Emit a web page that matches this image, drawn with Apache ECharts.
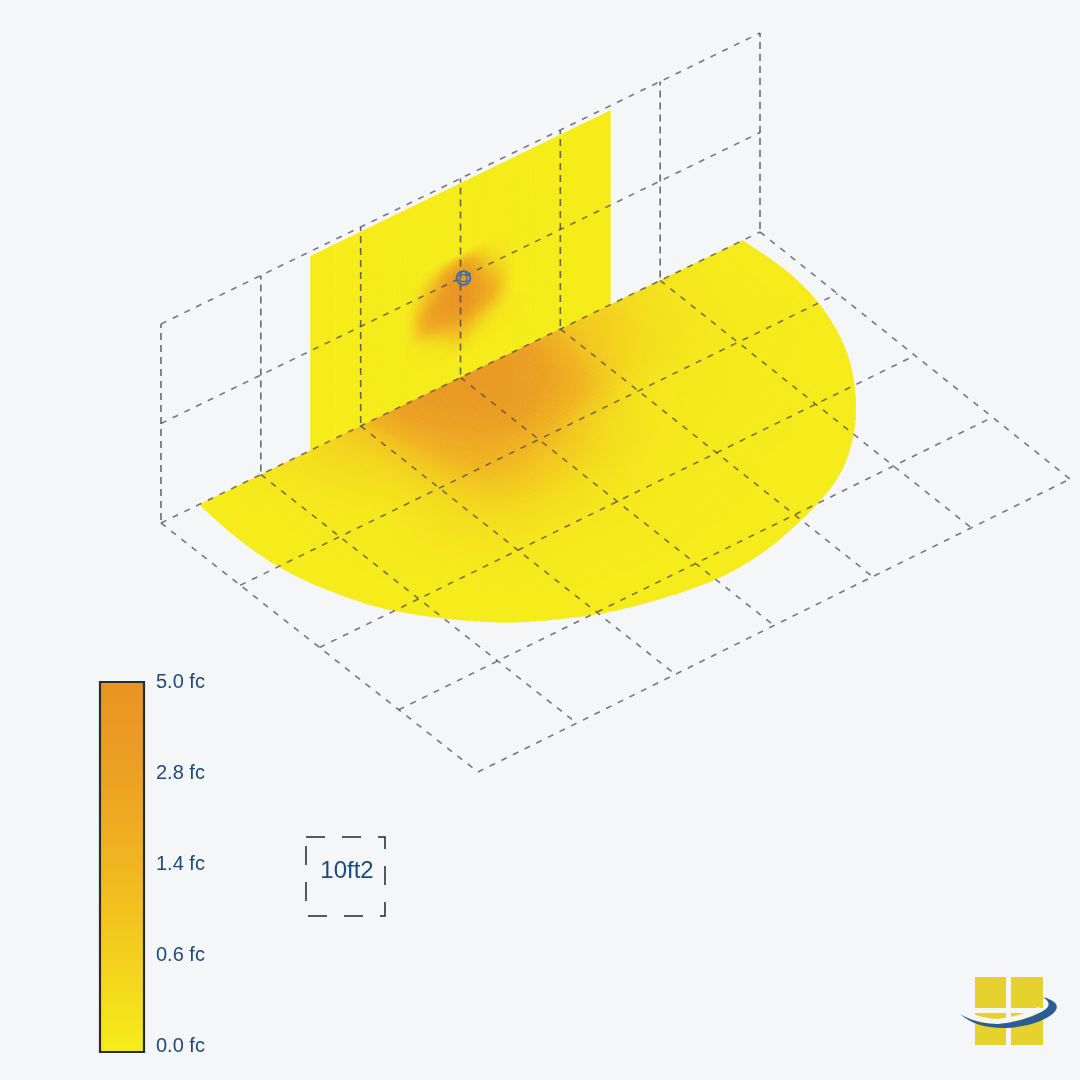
<!DOCTYPE html>
<html>
<head>
<meta charset="utf-8">
<style>html,body{margin:0;padding:0;background:#f4f6f8}#c{width:1080px;height:1080px}</style>
<script src="https://cdn.jsdelivr.net/npm/echarts@6/dist/echarts.min.js"></script>
</head>
<body>
<div id="c"></div>
<script>
// ---------- values ----------
var scaleLabels = ['0.0 fc', '0.6 fc', '1.4 fc', '2.8 fc', '5.0 fc'];
var scaleValues = [0, 0.6, 1.4, 2.8, 5.0];
var scaleColors = ['#f5ec1a', '#f3cf1e', '#f0b520', '#eca122', '#e89423'];

// floor illuminance (fc): rows v = 0, .5 ... 3.5 ; columns u = 0, .5 ... 6 (grid cells)
var floorRow0 = [0, 0, 0.1, 0.35, 1.0, 3.5, 4.2, 3.6, 1.2, 0.5, 0.15, 0.03, 0];
var floorRow1 = [0, 0, 0.05, 0.25, 0.7, 2.5, 3.6, 2.6, 0.8, 0.3, 0.1, 0.02, 0];
var floorRow2 = [0, 0, 0.03, 0.1, 0.5, 1.4, 1.4, 0.7, 0.2, 0.1, 0.05, 0.02, 0];
var floorRow3 = [0, 0, 0.02, 0.1, 0.3, 0.5, 0.4, 0.2, 0.08, 0.05, 0.02, 0, 0];
var floorRow4 = [0, 0, 0, 0.03, 0.1, 0.12, 0.1, 0.06, 0.03, 0.02, 0.01, 0, 0];
var floorRow5 = [0, 0, 0, 0, 0.02, 0.03, 0.03, 0.02, 0.01, 0, 0, 0, 0];
var floorRow6 = [0, 0, 0, 0, 0, 0, 0, 0, 0, 0, 0, 0, 0];
var floorRow7 = [0, 0, 0, 0, 0, 0, 0, 0, 0, 0, 0, 0, 0];
var floorRows = [floorRow0, floorRow1, floorRow2, floorRow3, floorRow4, floorRow5, floorRow6, floorRow7];

// wall illuminance (fc): rows z = 0, .25 ... 2 ; columns u = 1.5, 1.75 ... 4.5
var wallRow0 = [0, 0, 0, 0, 0, 0, 0, 0, 0, 0, 0, 0, 0];
var wallRow1 = [0, 0, 0, 0, 0, 0.03, 0.1, 0.03, 0, 0, 0, 0, 0];
var wallRow2 = [0, 0, 0, 0, 0.05, 0.5, 1.3, 0.5, 0.1, 0, 0, 0, 0];
var wallRow3 = [0, 0, 0, 0, 0.25, 3.0, 4.5, 2.4, 0.15, 0, 0, 0, 0];
var wallRow4 = [0, 0, 0, 0, 0.05, 1.5, 4.6, 1.1, 0.08, 0, 0, 0, 0];
var wallRow5 = [0, 0, 0, 0, 0, 0.02, 0.1, 0.08, 0, 0, 0, 0, 0];
var wallRow6 = [0, 0, 0, 0, 0, 0, 0, 0, 0, 0, 0, 0, 0];
var wallRow7 = [0, 0, 0, 0, 0, 0, 0, 0, 0, 0, 0, 0, 0];
var wallRow8 = [0, 0, 0, 0, 0, 0, 0, 0, 0, 0, 0, 0, 0];
var wallRows = [wallRow0, wallRow1, wallRow2, wallRow3, wallRow4, wallRow5, wallRow6, wallRow7, wallRow8];

var gridU = [0, 1, 2, 3, 4, 5, 6];
var gridV = [0, 1, 2, 3, 4];
var gridZ = [1, 2];
var luminaire = [3.03, 0.985];      // u, z on the wall
var wallSpan = [1.5, 4.5, 1.95];    // from u, to u, top z
// rim of the lit floor area, in grid cells
var floorEdgeU = [0.384, 0.344, 0.354, 0.369, 0.439, 0.54, 0.629, 0.759, 0.924, 1.151, 1.354, 1.522, 1.765, 1.993, 2.26, 2.55, 2.833, 3.156, 3.524, 3.957, 4.403, 4.568, 4.879, 5.099, 5.377, 5.577, 5.733, 5.822, 5.872, 5.865, 5.831];
var floorEdgeV = [0, 0.35, 0.68, 1.015, 1.295, 1.584, 1.814, 2.029, 2.239, 2.497, 2.672, 2.788, 2.913, 3.043, 3.123, 3.188, 3.248, 3.259, 3.224, 3.095, 2.912, 2.831, 2.591, 2.376, 2.012, 1.685, 1.323, 0.957, 0.641, 0.346, 0];

// ---------- projection of the room onto the page ----------
var A = [161, 523], B = [760, 232], C = [1070, 479], D = [478, 772], H = 99.5;
var EU = [99.7, -48.5], EV = [79, 62];
function project(u, v, z) {
  var s = u / 6, t = v / 4;
  var x = A[0] * (1 - s) * (1 - t) + B[0] * s * (1 - t) + C[0] * s * t + D[0] * (1 - s) * t;
  var y = A[1] * (1 - s) * (1 - t) + B[1] * s * (1 - t) + C[1] * s * t + D[1] * (1 - s) * t;
  return [x, y - (z || 0) * H];
}
function planar(u, v) { return [A[0] + u * EU[0] + v * EV[0], A[1] + u * EU[1] + v * EV[1]]; }

// ---------- colour scale ----------
function hex(c) { return [parseInt(c.substr(1, 2), 16), parseInt(c.substr(3, 2), 16), parseInt(c.substr(5, 2), 16)]; }
var rgbStops = scaleColors.map(hex);
function colorOf(val) {
  val = Math.max(0, Math.min(5, val));
  var i = 0;
  while (i < scaleValues.length - 2 && val > scaleValues[i + 1]) i++;
  var f = (val - scaleValues[i]) / (scaleValues[i + 1] - scaleValues[i]);
  var a = rgbStops[i], b = rgbStops[i + 1];
  return 'rgb(' + Math.round(a[0] + (b[0] - a[0]) * f) + ',' + Math.round(a[1] + (b[1] - a[1]) * f) + ',' + Math.round(a[2] + (b[2] - a[2]) * f) + ')';
}
function cr(p0, p1, p2, p3, f) {
  return 0.5 * (2 * p1 + (p2 - p0) * f + (2 * p0 - 5 * p1 + 4 * p2 - p3) * f * f + (3 * p1 - p0 - 3 * p2 + p3) * f * f * f);
}
function gridAt(rows, r, c) {
  return rows[Math.max(0, Math.min(rows.length - 1, r))][Math.max(0, Math.min(rows[0].length - 1, c))];
}
function shade(rows, x, y) {
  var ix = Math.min(Math.floor(x), rows[0].length - 2), iy = Math.min(Math.floor(y), rows.length - 2), fx = x - ix, fy = y - iy;
  var col = [];
  for (var k = -1; k <= 2; k++) col.push(cr(gridAt(rows, iy + k, ix - 1), gridAt(rows, iy + k, ix), gridAt(rows, iy + k, ix + 1), gridAt(rows, iy + k, ix + 2), fx));
  return cr(col[0], col[1], col[2], col[3], fy);
}
function cellsOf(rows) {
  var out = [];
  for (var r = 0; r < rows.length - 1; r++) for (var c = 0; c < rows[0].length - 1; c++) out.push([c, r, rows[r][c]]);
  return out;
}

function patchRender(rows, toWorld, clipFn, fineSub) {
  return function (params, api) {
    var c = api.value(0), r = api.value(1), kids = [], peak = 0;
    for (var a = -1; a <= 2; a++) for (var b = -1; b <= 2; b++) peak = Math.max(peak, gridAt(rows, r + a, c + b));
    var sub = peak > 0 ? fineSub : 1;
    for (var i = 0; i < sub; i++) for (var j = 0; j < sub; j++) {
      var x0 = c + i / sub, x1 = c + (i + 1) / sub, y0 = r + j / sub, y1 = r + (j + 1) / sub;
      var pts = [[x0, y0], [x1, y0], [x1, y1], [x0, y1]].map(function (p) { return api.coord(toWorld(p[0], p[1])); });
      var col = colorOf(shade(rows, (x0 + x1) / 2, (y0 + y1) / 2));
      kids.push({ type: 'polygon', shape: { points: pts }, silent: true, style: { fill: col, stroke: col, lineWidth: 0.7 } });
    }
    var g = { type: 'group', children: kids };
    if (clipFn) g.clipPath = { type: 'polygon', shape: { points: clipFn(api) } };
    return g;
  };
}
// the rim is read point by point, so even out the reading noise before drawing it
function smoothed(arr) {
  var out = arr.slice();
  for (var i = 1; i < arr.length - 1; i++) out[i] = (arr[i - 1] + 2 * arr[i] + arr[i + 1]) / 4;
  return out;
}
var rimU = smoothed(floorEdgeU), rimV = smoothed(floorEdgeV);
function floorOutline(api) {
  var pts = [], n = rimU.length;
  function at(arr, i) { return arr[Math.max(0, Math.min(n - 1, i))]; }
  for (var i = 0; i < n - 1; i++) for (var k = 0; k < 4; k++) {
    var f = k / 4;
    pts.push(api.coord(planar(
      cr(at(rimU, i - 1), at(rimU, i), at(rimU, i + 1), at(rimU, i + 2), f),
      Math.max(0, cr(at(rimV, i - 1), at(rimV, i), at(rimV, i + 1), at(rimV, i + 2), f)))));
  }
  pts.push(api.coord(planar(rimU[n - 1], rimV[n - 1])));
  return pts;
}
function lineSeries(name, segs, dash, color, width) {
  return {
    type: 'custom', name: name, coordinateSystem: 'cartesian2d', xAxisIndex: 0, yAxisIndex: 0, silent: true, z: 5,
    data: segs.map(function (s, i) { return [i]; }), encode: { x: 0 },
    renderItem: function (params, api) {
      var s = segs[params.dataIndex];
      var a = api.coord(project(s[0], s[1], s[2])), b = api.coord(project(s[3], s[4], s[5]));
      return { type: 'line', shape: { x1: a[0], y1: a[1], x2: b[0], y2: b[1] }, silent: true,
        style: { stroke: color, lineWidth: width, lineDash: dash, fill: null } };
    }
  };
}
var segFloor = [], segWall = [], segPost = [];
gridU.forEach(function (u) { segFloor.push([u, 0, 0, u, 4, 0]); segPost.push([u, 0, 0.03, u, 0, 2]); });
gridV.forEach(function (v) { segFloor.push([0, v, 0, 6, v, 0]); });
gridZ.forEach(function (z) { segWall.push([0, 0, z, 6, 0, z]); });

var BG = '#f4f6f8';
var chart = echarts.init(document.getElementById('c'), null, { renderer: 'canvas' });
chart.setOption({
  backgroundColor: BG,
  animation: false,
  grid: [
    { left: 0, top: 0, width: 1080, height: 1080 },
    { left: 100, top: 682, width: 44, height: 364 }
  ],
  xAxis: [
    { type: 'value', min: 0, max: 1080, show: false, gridIndex: 0 },
    { type: 'value', min: 0, max: 1, show: false, gridIndex: 1 }
  ],
  yAxis: [
    { type: 'value', min: 0, max: 1080, inverse: true, show: false, gridIndex: 0 },
    { type: 'category', data: scaleLabels, boundaryGap: false, gridIndex: 1, position: 'right',
      axisLine: { show: false }, axisTick: { show: false }, splitLine: { show: false },
      axisLabel: { show: true, interval: 0, color: '#1b4b7c', fontFamily: 'Liberation Sans', fontSize: 20, margin: 12, align: 'left' } }
  ],
  series: [
    { type: 'custom', name: 'Wall', coordinateSystem: 'cartesian2d', xAxisIndex: 0, yAxisIndex: 0, silent: true, z: 2,
      data: cellsOf(wallRows), encode: { x: 0, y: 1 },
      renderItem: patchRender(wallRows, function (c, r) {
        return project(wallSpan[0] + c * 0.25, 0, Math.min(r * 0.25, wallSpan[2]));
      }, null, 10) },
    { type: 'custom', name: 'Floor', coordinateSystem: 'cartesian2d', xAxisIndex: 0, yAxisIndex: 0, silent: true, z: 3,
      data: cellsOf(floorRows), encode: { x: 0, y: 1 },
      renderItem: patchRender(floorRows, function (c, r) {
        return planar(c * 0.5, r * 0.5);
      }, floorOutline, 12) },
    lineSeries('Floor grid', segFloor, [6, 7], 'rgba(70,70,85,0.72)', 1.6),
    lineSeries('Wall grid', segWall, [6, 7], 'rgba(70,70,85,0.72)', 1.6),
    lineSeries('Posts', segPost, [7, 5], 'rgba(70,70,70,0.8)', 1.6),
    { type: 'custom', name: 'Luminaire', coordinateSystem: 'cartesian2d', xAxisIndex: 0, yAxisIndex: 0, silent: true, z: 8,
      data: [luminaire], encode: { x: 0, y: 1 },
      renderItem: function (params, api) {
        var p = api.coord(project(api.value(0), 0, api.value(1)));
        var st = { stroke: '#3a6db0', fill: null, lineWidth: 1.2 };
        return { type: 'group', children: [
          { type: 'circle', shape: { cx: p[0], cy: p[1], r: 7 }, style: { stroke: '#3a6db0', fill: null, lineWidth: 1.7 } },
          { type: 'ellipse', shape: { cx: p[0], cy: p[1], rx: 3.5, ry: 7 }, style: st },
          { type: 'ellipse', shape: { cx: p[0], cy: p[1], rx: 7, ry: 3.5 }, style: st }
        ] };
      } },
    { type: 'custom', name: 'Colour scale', coordinateSystem: 'cartesian2d', xAxisIndex: 1, yAxisIndex: 1, silent: true, z: 4,
      data: [[0, 0]], encode: { x: 0, y: 1 },
      renderItem: function (params, api) {
        var top = api.coord([0, scaleLabels.length - 1]), bot = api.coord([1, 0]);
        var h = bot[1] - top[1] + 6;
        var stops = scaleColors.map(function (c, i) {
          var pos = (bot[1] - (i / (scaleColors.length - 1)) * (bot[1] - top[1]) - top[1]) / h;
          return { offset: pos, color: c };
        }).reverse();
        stops.push({ offset: 1, color: scaleColors[0] });
        return { type: 'rect', shape: { x: top[0], y: top[1], width: bot[0] - top[0], height: h },
          style: { fill: new echarts.graphic.LinearGradient(0, 0, 0, 1, stops), stroke: '#2b2b2f', lineWidth: 2.2 } };
      } },
    { type: 'custom', name: 'Logo swoosh', coordinateSystem: 'cartesian2d', xAxisIndex: 0, yAxisIndex: 0, silent: true, z: 9,
      data: [[0, 0]], encode: { x: 0, y: 1 },
      renderItem: function () {
        var d = 'M960 1014 C 970 1023 985 1028 1003 1028 C 1025 1028 1050 1020 1056 1010 C 1060 1003 1050 999 1043 997 C 1050 1002 1051 1006 1043 1011 C 1030 1019 1010 1023 998 1024 C 982 1024 970 1020 960 1014 Z';
        var halo = 'M972 1016 C 978 1019 986 1021 998 1021.5 C 1012 1020 1028 1016 1040 1009';
        return { type: 'group', children: [
          { type: 'path', shape: { pathData: halo }, style: { fill: null, stroke: BG, lineWidth: 5 } },
          { type: 'path', shape: { pathData: d }, style: { fill: '#2c5d92' } }
        ] };
      } }
  ],
  graphic: [
    { type: 'rect', silent: true, shape: { x: 306, y: 837, width: 79, height: 79 }, style: { fill: null, stroke: '#26262a', lineWidth: 1.5, lineDash: [19, 17] } },
    { type: 'text', silent: true, x: 347, y: 871, style: { text: '10ft2', fill: '#1b4b7c', font: '24px "Liberation Sans"', align: 'center', verticalAlign: 'middle' } },
    { type: 'rect', silent: true, shape: { x: 975, y: 977, width: 31, height: 31 }, style: { fill: '#e5d22f' } },
    { type: 'rect', silent: true, shape: { x: 1011, y: 977, width: 32, height: 31 }, style: { fill: '#e5d22f' } },
    { type: 'rect', silent: true, shape: { x: 975, y: 1013, width: 31, height: 32 }, style: { fill: '#e5d22f' } },
    { type: 'rect', silent: true, shape: { x: 1011, y: 1013, width: 32, height: 32 }, style: { fill: '#e5d22f' } }
  ]
});
</script>
</body>
</html>
